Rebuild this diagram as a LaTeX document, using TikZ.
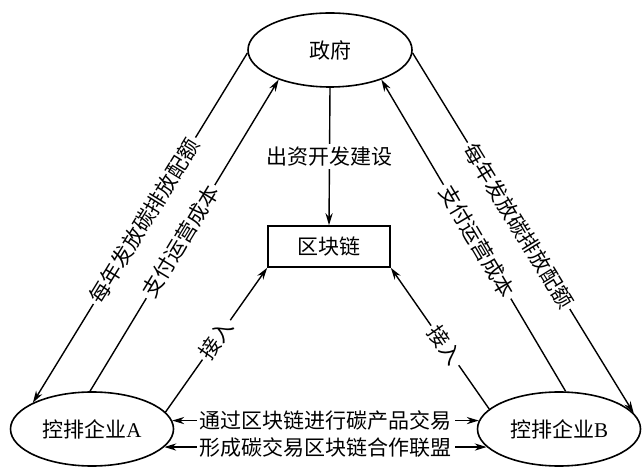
\documentclass[tikz,border=0pt]{standalone}
\usepackage{fontspec}
\setmainfont{Liberation Serif}
\newfontfamily\cjk{Noto Sans CJK SC}
\usetikzlibrary{arrows.meta, shapes.geometric}

\tikzset{
  party/.style={draw, ellipse, line width=0.8pt, inner sep=0pt,
    minimum width=81.5pt, minimum height=37pt},
  chainbox/.style={draw, rectangle, line width=0.8pt,
    minimum width=61pt, minimum height=20.5pt},
  flow/.style={line width=0.7pt, -{Stealth[length=6pt, width=3.6pt]}},
  twoway/.style={line width=0.7pt,
    {Stealth[length=6pt, width=3.6pt]}-{Stealth[length=6pt, width=3.6pt]}},
  tag/.style={fill=white, inner sep=1.5pt},
}

\begin{document}
\begin{tikzpicture}[x=0.5pt, y=0.5pt, font=\cjk\fontsize{10.5}{12}\selectfont]
  \useasboundingbox (0,0) rectangle (642,471);

  % parties
  \node[party, minimum width=82pt] (gov) at (330,421) {政府};
  \node[chainbox] (chain) at (329,224.5) {区块链};
  \node[party] (firmA) at (92,42) {控排企业{\rmfamily A}};
  \node[party] (firmB) at (559,42) {控排企业{\rmfamily B}};

  % quotas down, running costs up
  \draw[flow] (gov.182) -- node[tag, sloped, pos=0.48] {每年发放碳排放配额} (firmA.156);
  \draw[flow] (firmA.93) -- node[tag, sloped, pos=0.48] {支付运营成本} (gov.210);
  \draw[flow] (gov.-2) -- node[tag, sloped, pos=0.48] {每年发放碳排放配额} (firmB.12);
  \draw[flow] (firmB.80) -- node[tag, sloped, pos=0.48] {支付运营成本} (gov.-30);

  % funding and access
  \draw[flow] (gov.south) -- node[tag] {出资开发建设} (chain.north);
  \draw[flow] (firmA.13) -- node[tag, sloped] {接入} (chain.south west);
  \draw[flow] (firmB.164) -- node[tag, sloped, pos=0.45] {接入} (chain.south east);

  % trading between firms
  \draw[twoway] (firmA.6) -- node[tag] {通过区块链进行碳产品交易} (firmB.174);
  \draw[twoway] (firmA.-14) -- node[tag] {形成碳交易区块链合作联盟} (firmB.194);
\end{tikzpicture}
\end{document}
